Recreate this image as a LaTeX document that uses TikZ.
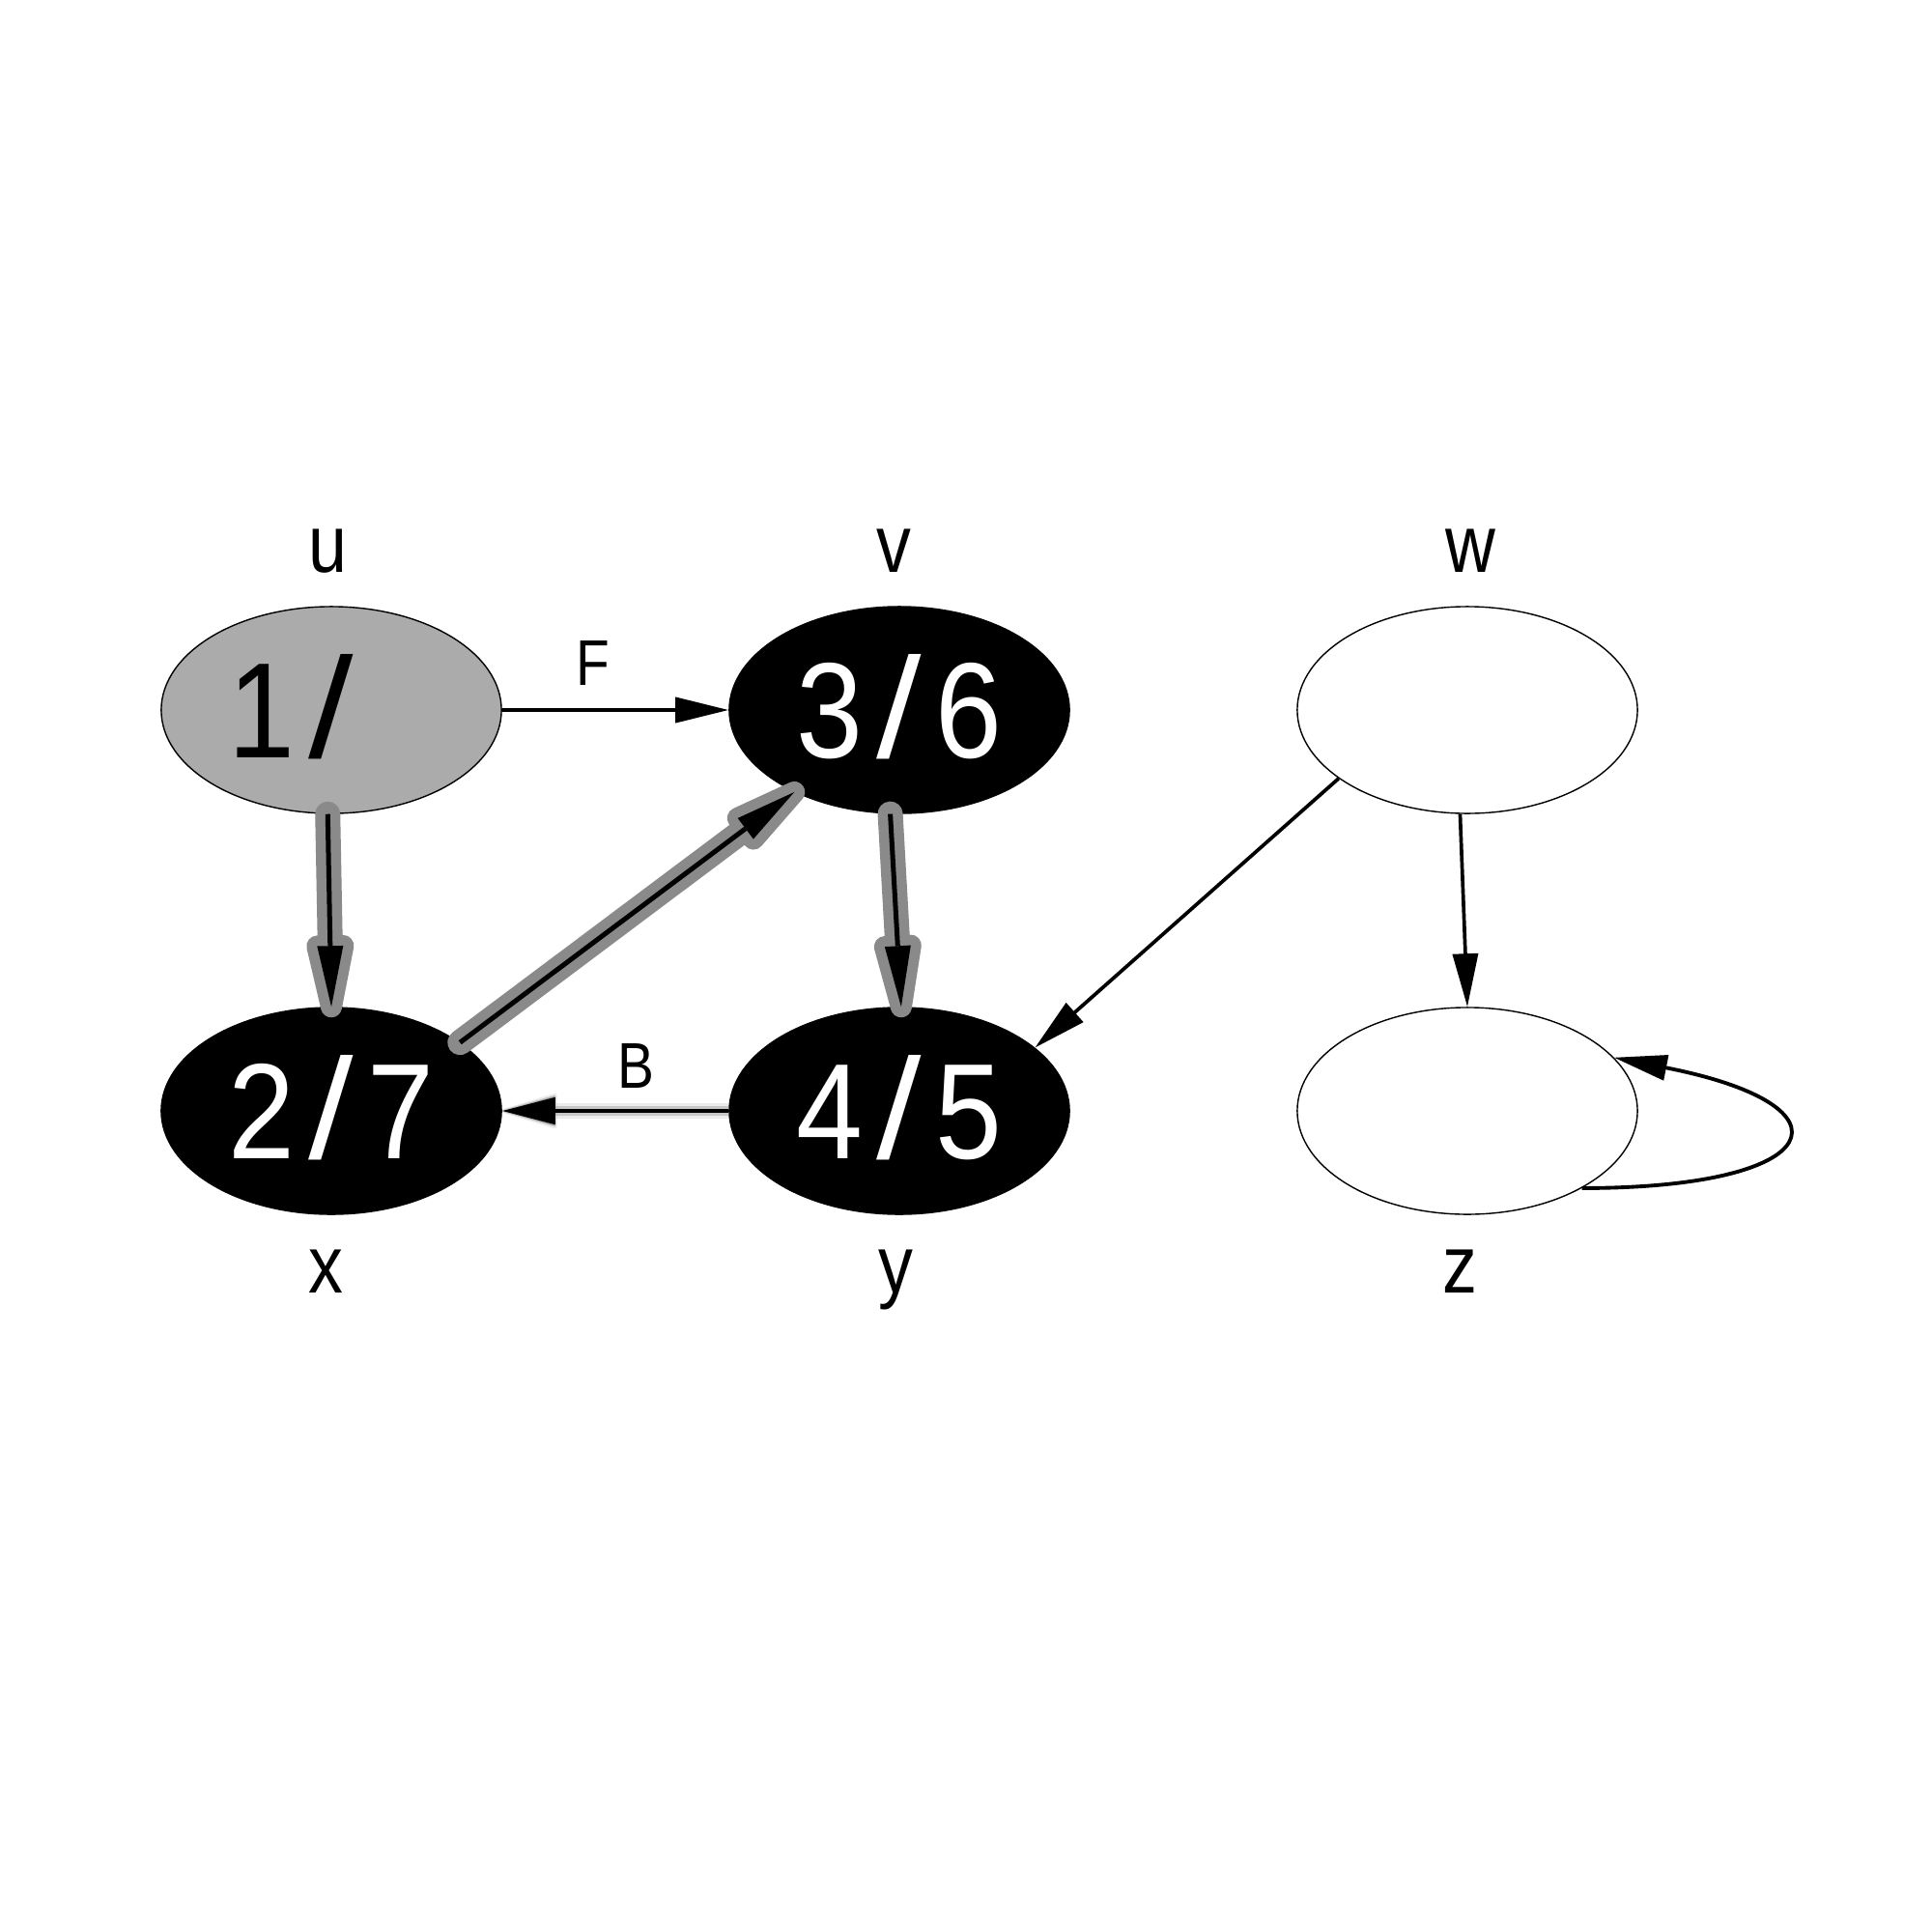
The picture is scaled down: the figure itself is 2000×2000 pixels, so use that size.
\documentclass[tikz,border=0pt]{standalone}
\usepackage{fontspec}
\usepackage{graphicx}
\setmainfont{Liberation Sans}
\newfontfamily\numfont[FakeStretch=0.88]{Liberation Sans}
\newfontfamily\labfont[FakeStretch=0.85]{Liberation Sans}
\usetikzlibrary{shapes.geometric,arrows.meta,calc}
\definecolor{nodegray}{HTML}{ABABAB}
\definecolor{halogray}{HTML}{8A8A8A}
\newcommand\fracnum[2]{#1\hspace{0.14cm}\scalebox{1.35}[1.05]{/}\hspace{0.14cm}#2}
\tikzset{
  vtx/.style={ellipse, draw=black, line width=0.4pt, minimum width=3.52cm, minimum height=2.14cm, inner sep=0pt,
    font=\numfont\fontsize{40pt}{44pt}\selectfont, text height=0.98cm, text depth=0pt},
  graynode/.style={vtx, fill=nodegray, text=black},
  blacknode/.style={vtx, fill=black, text=white},
  whitenode/.style={vtx, fill=white},
  lowlab/.style={anchor=base, inner sep=0pt, font=\labfont\fontsize{24pt}{28pt}\selectfont},
  caplab/.style={anchor=base, inner sep=0pt, font=\labfont\fontsize{19pt}{22pt}\selectfont},
  plainedge/.style={draw=black, line width=1.1pt, -{Triangle[length=0.55cm,width=0.26cm]}},
  thinedge/.style={draw=black, line width=1.05pt, -{Triangle[length=0.55cm,width=0.26cm]}},
  backedge/.style={draw=black, line width=1.3pt, -{Triangle[length=0.55cm,width=0.27cm]},
    preaction={draw=black, opacity=0.08, line width=4.5pt, -{Triangle[length=0.62cm,width=0.37cm,line width=1.2pt, round]}},
    preaction={draw=black, opacity=0.15, line width=3pt, -{Triangle[length=0.59cm,width=0.32cm,line width=0.7pt, round]}}},
  haloshaft/.style={draw=halogray, line width=0.26cm, line cap=round},
  halotip/.style={draw=halogray, fill=halogray, line width=0.22cm, line join=round},
  coreshaft/.style={draw=black, line width=0.05cm},
  coretip/.style={fill=black}
}
% tree edge with grey halo: #1 start anchor, #2 end anchor
\newcommand\treeedge[2]{%
  \path (#2) coordinate (T) ($(#2)!0.63cm!(#1)$) coordinate (B);
  \path ($(B)!0.135cm!90:(T)$) coordinate (P1) ($(B)!0.135cm!-90:(T)$) coordinate (P2);
  \draw[haloshaft] (#1) -- (B);
  \filldraw[halotip] (T) -- (P1) -- (P2) -- cycle;
  \draw[coreshaft] (#1) -- (B);
  \fill[coretip] (T) -- (P1) -- (P2) -- cycle;
}
\begin{document}
\begin{tikzpicture}[x=0.01cm, y=-0.01cm]
\useasboundingbox[fill=white] (0,0) rectangle (2000,2000);

% vertices
\node[graynode]  (u) at (343,735)  {\fracnum{1}{\phantom{7}}};
\node[blacknode] (v) at (931,735)  {\fracnum{3}{6}};
\node[whitenode] (w) at (1519,735) {};
\node[blacknode] (x) at (343,1150) {\fracnum{2}{7}};
\node[blacknode] (y) at (931,1150) {\fracnum{4}{5}};
\node[whitenode] (z) at (1519,1150) {};

% vertex names
\node[lowlab] (lu) at (339,592) {u};
\node[lowlab] (lv) at (925,592) {v};
\node[lowlab] (lw) at (1522,592) {w};
\node[lowlab] (lx) at (337,1338) {x};
\node[lowlab] (ly) at (927,1338) {y};
\node[lowlab] (lz) at (1511,1338) {z};

% edge labels
\node[caplab] (lF) at (614,709) {F};
\node[caplab] (lB) at (658,1126) {B};

% tree edges
\treeedge{u.268}{x.north}
\treeedge{x.28.5}{v.218}
\treeedge{v.265}{y.89}

% other edges
\draw[plainedge] (u) -- (v);
\draw[backedge] (y) -- (x);
\draw[thinedge] (w.208) -- (y.25.5);
\draw[thinedge] (w.266) -- (z.north);
\draw[plainedge] (z.-34) .. controls ([shift={(255,0)}]z.-34) and ([shift={(255,50)}]z.20) .. (z.20);
\end{tikzpicture}
\end{document}
